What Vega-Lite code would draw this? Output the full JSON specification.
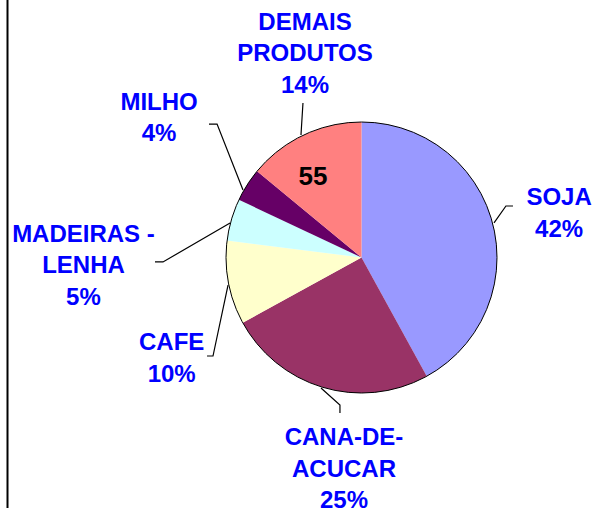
{
  "$schema": "https://vega.github.io/schema/vega-lite/v6.json",
  "autosize": {"type": "none"},
  "width": 271,
  "height": 271,
  "padding": {"left": 226, "top": 122, "right": 98, "bottom": 115},
  "background": "white",
  "config": {"view": {"stroke": null}},
  "datasets": {
    "slices": [
      {"produto": "SOJA", "valor": 42, "ordem": 1},
      {"produto": "CANA-DE-ACUCAR", "valor": 25, "ordem": 2},
      {"produto": "CAFE", "valor": 10, "ordem": 3},
      {"produto": "MADEIRAS - LENHA", "valor": 5, "ordem": 4},
      {"produto": "MILHO", "valor": 4, "ordem": 5},
      {"produto": "DEMAIS PRODUTOS", "valor": 14, "ordem": 6}
    ],
    "labels": [
      {"produto": "SOJA", "texto": "SOJA\n42%", "lx": 1.458, "ly": 0.387},
      {"produto": "CANA-DE-ACUCAR", "texto": "CANA-DE-\nACUCAR\n25%", "lx": -0.129, "ly": -1.384},
      {"produto": "CAFE", "texto": "CAFE\n10%", "lx": -1.401, "ly": -0.683},
      {"produto": "MADEIRAS - LENHA", "texto": "MADEIRAS -\nLENHA\n5%", "lx": -2.052, "ly": 0.117},
      {"produto": "MILHO", "texto": "MILHO\n4%", "lx": -1.494, "ly": 1.089},
      {"produto": "DEMAIS PRODUTOS", "texto": "DEMAIS\nPRODUTOS\n14%", "lx": -0.417, "ly": 1.679}
    ],
    "leaders": [
      {"produto": "DEMAIS PRODUTOS", "p": 1, "lx": -0.432, "ly": 1.14},
      {"produto": "DEMAIS PRODUTOS", "p": 2, "lx": -0.4465, "ly": 0.904},
      {"produto": "MILHO", "p": 1, "lx": -1.1255, "ly": 0.985},
      {"produto": "MILHO", "p": 2, "lx": -1.066, "ly": 0.985},
      {"produto": "MILHO", "p": 3, "lx": -0.8745, "ly": 0.498},
      {"produto": "MADEIRAS - LENHA", "p": 1, "lx": -1.524, "ly": -0.033},
      {"produto": "MADEIRAS - LENHA", "p": 2, "lx": -1.465, "ly": -0.033},
      {"produto": "MADEIRAS - LENHA", "p": 3, "lx": -0.97, "ly": 0.255},
      {"produto": "CAFE", "p": 1, "lx": -1.14, "ly": -0.727},
      {"produto": "CAFE", "p": 2, "lx": -1.096, "ly": -0.727},
      {"produto": "CAFE", "p": 3, "lx": -0.985, "ly": -0.203},
      {"produto": "CANA-DE-ACUCAR", "p": 1, "lx": -0.159, "ly": -1.148},
      {"produto": "CANA-DE-ACUCAR", "p": 2, "lx": -0.159, "ly": -1.089},
      {"produto": "CANA-DE-ACUCAR", "p": 3, "lx": -0.299, "ly": -0.963},
      {"produto": "SOJA", "p": 1, "lx": 1.118, "ly": 0.38},
      {"produto": "SOJA", "p": 2, "lx": 1.066, "ly": 0.38},
      {"produto": "SOJA", "p": 3, "lx": 0.978, "ly": 0.255}
    ],
    "inner": [
      {"texto": "55", "lx": -0.358, "ly": 0.535}
    ],
    "frame": [
      {"lx": -2.6125, "ly": 1.9, "ly2": -1.85}
    ]
  },
  "layer": [
    {
      "data": {"name": "slices"},
      "mark": {"type": "arc"},
      "encoding": {
        "theta": {"field": "valor", "type": "quantitative", "stack": true},
        "order": {"field": "ordem", "type": "quantitative", "sort": "ascending"},
        "color": {
          "field": "produto",
          "type": "nominal",
          "legend": null,
          "scale": {
            "domain": ["SOJA", "CANA-DE-ACUCAR", "CAFE", "MADEIRAS - LENHA", "MILHO", "DEMAIS PRODUTOS"],
            "range": ["#9999FF", "#993366", "#FFFFCC", "#CCFFFF", "#660066", "#FF8080"]
          }
        }
      }
    },
    {
      "data": {"name": "slices"},
      "mark": {"type": "arc", "filled": false, "stroke": "black", "strokeWidth": 1},
      "encoding": {
        "theta": {"aggregate": "sum", "field": "valor", "type": "quantitative"}
      }
    },
    {
      "data": {"name": "leaders"},
      "mark": {"type": "line", "color": "black", "strokeWidth": 1.2},
      "encoding": {
        "x": {"field": "lx", "type": "quantitative", "scale": {"domain": [-1, 1], "nice": false, "zero": false}, "axis": null},
        "y": {"field": "ly", "type": "quantitative", "scale": {"domain": [-1, 1], "nice": false, "zero": false}, "axis": null},
        "detail": {"field": "produto", "type": "nominal"},
        "order": {"field": "p", "type": "quantitative"}
      }
    },
    {
      "data": {"name": "frame"},
      "mark": {"type": "rule", "color": "black", "strokeWidth": 2},
      "encoding": {
        "x": {"field": "lx", "type": "quantitative"},
        "y": {"field": "ly", "type": "quantitative"},
        "y2": {"field": "ly2"}
      }
    },
    {
      "data": {"name": "labels"},
      "mark": {
        "type": "text",
        "font": "Liberation Sans",
        "fontSize": 24,
        "fontWeight": "bold",
        "color": "#0000FF",
        "align": "center",
        "baseline": "alphabetic",
        "lineBreak": "\n",
        "lineHeight": 31.5
      },
      "encoding": {
        "x": {"field": "lx", "type": "quantitative"},
        "y": {"field": "ly", "type": "quantitative"},
        "text": {"field": "texto", "type": "nominal"}
      }
    },
    {
      "data": {"name": "inner"},
      "mark": {
        "type": "text",
        "font": "Liberation Sans",
        "fontSize": 26,
        "fontWeight": "bold",
        "color": "black",
        "align": "center",
        "baseline": "alphabetic"
      },
      "encoding": {
        "x": {"field": "lx", "type": "quantitative"},
        "y": {"field": "ly", "type": "quantitative"},
        "text": {"field": "texto", "type": "nominal"}
      }
    }
  ]
}
